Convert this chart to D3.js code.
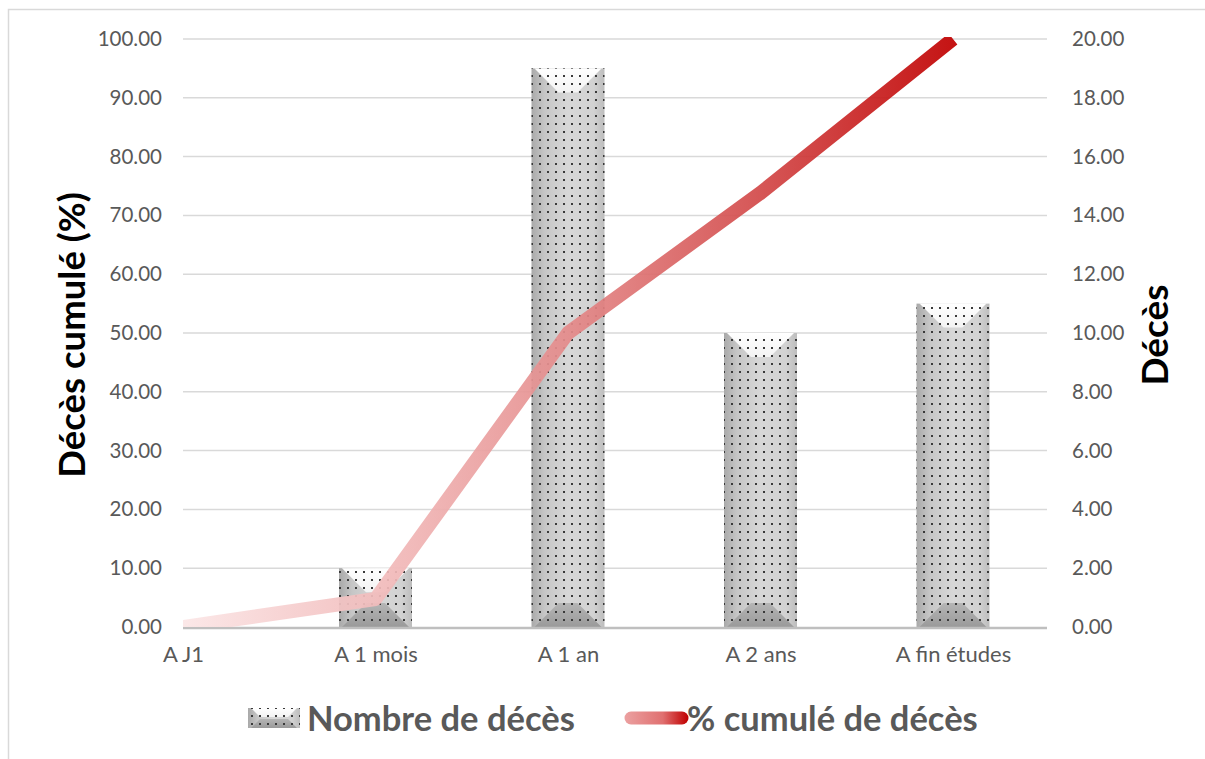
<!DOCTYPE html>
<html><head><meta charset="utf-8">
<script src="https://cdn.jsdelivr.net/npm/d3@7"></script>
<style>body{margin:0;background:#fff}svg{display:block}text{font-family:Lato,"Liberation Sans",sans-serif}</style>
</head><body>
<script>
const categories = ["A J1","A 1 mois","A 1 an","A 2 ans","A fin études"];
const deces = [0, 2, 19, 10, 11];
const cumulPct = [0, 4.76, 50, 73.81, 100];
const leftTicks = [0,10,20,30,40,50,60,70,80,90,100];
const rightTicks = [0,2,4,6,8,10,12,14,16,18,20];
const seriesNames = ["Nombre de décès","% cumulé de décès"];
const axisTitles = ["Décès cumulé (%)","Décès"];

const W=1205,H=759;
const svg=d3.select("body").append("svg").attr("width",W).attr("height",H);
const defs=svg.append("defs");
const plot={l:183,r:1047,t:39,b:627};
const x=d3.scalePoint().domain(categories).range([183,953]);
const yL=d3.scaleLinear().domain([0,100]).range([plot.b,plot.t]);
const yR=d3.scaleLinear().domain([0,20]).range([plot.b,plot.t]);

// border
svg.append("path").attr("d",`M8.5,${H} V9.5 H${W}`).attr("fill","none").attr("stroke","#d9d9d9").attr("stroke-width",1.5);

// gradients
function lg(id,stops,attrs){const g=defs.append("linearGradient").attr("id",id);Object.entries(attrs||{}).forEach(([k,v])=>g.attr(k,v));stops.forEach(s=>g.append("stop").attr("offset",s[0]).attr("stop-color",s[1]).attr("stop-opacity",s[2]==null?1:s[2]));}
lg("barSide",[[0,"#a9a9a9"],[0.18,"#c6c6c6"],[0.5,"#d7d7d7"],[0.85,"#d2d2d2"],[1,"#bdbdbd"]]);
lg("barTop",[[0,"#ffffff"],[1,"#f3f3f3"]],{x1:0,y1:0,x2:0,y2:1});
lg("barBot",[[0,"#b5b5b5"],[1,"#9a9a9a"]],{x1:0,y1:0,x2:0,y2:1});
lg("lineGrad",[[0,"#fbe6e6"],[0.3,"#f0b4b4"],[0.5,"#e48a8a"],[0.75,"#d24848"],[1,"#c00000"]],{gradientUnits:"userSpaceOnUse",x1:183,y1:0,x2:953,y2:0});
lg("legLine",[[0,"#eba0a0"],[0.6,"#e07070"],[1,"#c00000"]],{gradientUnits:"userSpaceOnUse",x1:625,y1:0,x2:688,y2:0});
const pat=defs.append("pattern").attr("id","dots").attr("patternUnits","userSpaceOnUse").attr("width",8).attr("height",8);
pat.append("rect").attr("x",3).attr("y",3).attr("width",2).attr("height",2).attr("fill","#3a3a3a");
defs.append("clipPath").attr("id","pclip").append("rect").attr("x",plot.l).attr("y",plot.t-2).attr("width",plot.r-plot.l).attr("height",plot.b-plot.t+2);

// gridlines
svg.append("g").selectAll("line").data(leftTicks.filter(d=>d>0)).join("line")
 .attr("x1",plot.l).attr("x2",plot.r).attr("y1",d=>yL(d)).attr("y2",d=>yL(d))
 .attr("stroke","#d9d9d9").attr("stroke-width",1.5);

// bars
function drawBar(g,x0,y0,w,h,dmax){
  const x1=x0+w,y1=y0+h; const d=Math.min(dmax,h/2); const i=3;
  g.append("rect").attr("x",x0).attr("y",y0).attr("width",w).attr("height",h).attr("fill","url(#barSide)");
  g.append("path").attr("d",`M${x0+i},${y0}H${x1-i}L${x1-i-d},${y0+d}H${x0+i+d}Z`).attr("fill","url(#barTop)");
  g.append("path").attr("d",`M${x0+i},${y1}H${x1-i}L${x1-i-d},${y1-d}H${x0+i+d}Z`).attr("fill","url(#barBot)");
  g.append("rect").attr("x",x0).attr("y",y0).attr("width",w).attr("height",h).attr("fill","url(#dots)");
}
const bw=73;
const barsG=svg.append("g");
categories.forEach((c,k)=>{ if(deces[k]>0){ const g=barsG.append("g"); drawBar(g,x(c)-bw/2,yR(deces[k]),bw,yR(0)-yR(deces[k]),24);} });

// axis line
svg.append("line").attr("x1",plot.l).attr("x2",plot.r).attr("y1",plot.b+1).attr("y2",plot.b+1).attr("stroke","#bfbfbf").attr("stroke-width",2.5);

// cumulative line
const line=d3.line().x((d,i)=>x(categories[i])).y(d=>yL(d));
svg.append("path").datum(cumulPct).attr("d",line).attr("clip-path","url(#pclip)")
 .attr("fill","none").attr("stroke","url(#lineGrad)").attr("stroke-width",14).attr("stroke-linejoin","round").attr("opacity",0.92);

// axes labels
const tc="#595959";
svg.append("g").attr("transform",`translate(162,0)`).call(d3.axisLeft(yL).tickValues(leftTicks).tickFormat(d3.format(".2f")).tickSize(0).tickPadding(0))
 .call(g=>g.select(".domain").remove()).selectAll("text").attr("fill",tc).style("font-size","20.5px").style("font-family","Lato");
svg.append("g").attr("transform",`translate(1072,0)`).call(d3.axisRight(yR).tickValues(rightTicks).tickFormat(d3.format(".2f")).tickSize(0).tickPadding(0))
 .call(g=>g.select(".domain").remove()).selectAll("text").attr("fill",tc).style("font-size","20.5px").style("font-family","Lato");
svg.append("g").attr("transform",`translate(0,646)`).call(d3.axisBottom(x).tickSize(0).tickPadding(0))
 .call(g=>g.select(".domain").remove()).selectAll("text").attr("fill",tc).style("font-size","22px").style("font-family","Lato");

// axis titles
svg.append("text").attr("transform","translate(85,335) rotate(-90)").attr("text-anchor","middle")
 .style("font-size","36.5px").style("font-weight","bold").attr("fill","#000").text(axisTitles[0]);
svg.append("text").attr("transform","translate(1168,335) rotate(-90)").attr("text-anchor","middle")
 .style("font-size","37px").style("font-weight","bold").attr("fill","#000").text(axisTitles[1]);

// legend
const lgG=svg.append("g");
drawBar(lgG.append("g"),248,708,52,20,9);
lgG.append("text").attr("x",307).attr("y",731).style("font-size","34.5px").style("font-weight","bold").attr("fill",tc).text(seriesNames[0]);
lgG.append("line").attr("x1",631).attr("x2",682).attr("y1",718).attr("y2",718).attr("stroke","url(#legLine)").attr("stroke-width",13).attr("stroke-linecap","round");
lgG.append("text").attr("x",687).attr("y",731).style("font-size","34.5px").style("font-weight","bold").attr("fill",tc).text(seriesNames[1]);
</script>
</body></html>
